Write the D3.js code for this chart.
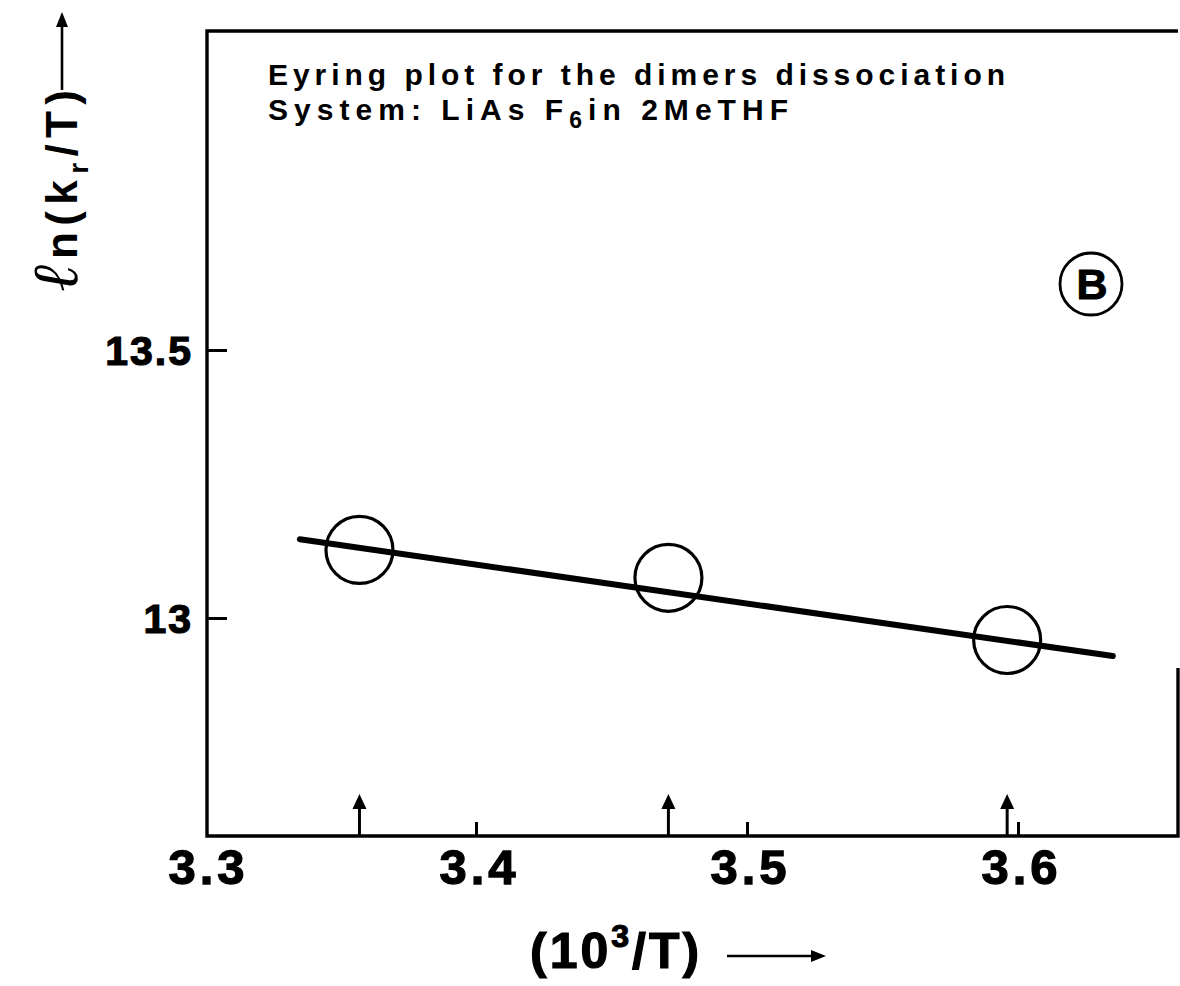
<!DOCTYPE html>
<html>
<head>
<meta charset="utf-8">
<script src="https://cdn.jsdelivr.net/npm/d3@7"></script>
<style>
  html, body { margin: 0; padding: 0; background: #fff; }
  svg { display: block; }
  text { font-family: "Liberation Sans", Arial, Helvetica, sans-serif; fill: #000; }
</style>
</head>
<body>
<svg id="chart" width="1180" height="986"></svg>
<script>
// Eyring plot: ln(k_r/T) against 10^3/T for the dimer dissociation
const invT = [3.357, 3.471, 3.596];          // 10^3 / T  (K^-1)
const lnKT = [13.127, 13.075, 12.959];       // ln(k_r / T)
const fitX = [3.335, 3.635];                 // least-squares line, endpoints in x
const fitY = [13.147, 12.929];               // least-squares line, endpoints in y
const xTicks = [3.3, 3.4, 3.5, 3.6];
const xTickLabels = ["3.3", "3.4", "3.5", "3.6"];
const yTicks = [13, 13.5];
const yTickLabels = ["13", "13.5"];

const svg = d3.select("#chart");
const frame = { left: 207, top: 31, right: 1178, bottom: 836 };

const x = d3.scaleLinear().domain([3.3, 3.6]).range([205, 1018]);
const y = d3.scaleLinear().domain([13, 13.5]).range([618, 350]);

// plot frame (right edge only shows near the bottom)
svg.append("path")
  .attr("d", `M${frame.right},${frame.top} L${frame.left},${frame.top} L${frame.left},${frame.bottom} L${frame.right},${frame.bottom} L${frame.right},668`)
  .attr("fill", "none").attr("stroke", "#000").attr("stroke-width", 3.4)
  .attr("stroke-linejoin", "miter");

// y axis with inward ticks
const yAxis = d3.axisLeft(y)
  .tickValues(yTicks)
  .tickSize(-20)
  .tickFormat((d, i) => yTickLabels[i]);
const gy = svg.append("g").attr("transform", `translate(${frame.left},0)`).call(yAxis);
gy.select(".domain").remove();
gy.selectAll(".tick line").attr("stroke", "#000").attr("stroke-width", 3);
gy.selectAll(".tick text")
  .attr("x", -14).attr("dy", "0.36em")
  .style("font-size", "41px").style("font-weight", "bold")
  .style("letter-spacing", "2px")
  .attr("stroke", "#000").attr("stroke-width", 1.2);

// x axis with short inward ticks
const xAxis = d3.axisBottom(x)
  .tickValues(xTicks)
  .tickSize(-14)
  .tickFormat((d, i) => xTickLabels[i]);
const gx = svg.append("g").attr("transform", `translate(0,${frame.bottom})`).call(xAxis);
gx.select(".domain").remove();
gx.selectAll(".tick line").attr("stroke", "#000").attr("stroke-width", 3)
  .attr("y2", (d) => d === 3.3 ? 0 : -14);
gx.selectAll(".tick text")
  .attr("x", 3).attr("y", 48).attr("dy", 0)
  .style("font-size", "49px").style("font-weight", "bold")
  .style("letter-spacing", "4px")
  .attr("stroke", "#000").attr("stroke-width", 1.3);

// arrows marking the measurement temperatures
const arrowLen = 42;
const arrows = svg.append("g");
invT.forEach((v) => {
  const ax = x(v);
  arrows.append("line")
    .attr("x1", ax).attr("x2", ax)
    .attr("y1", frame.bottom).attr("y2", frame.bottom - arrowLen + 10)
    .attr("stroke", "#000").attr("stroke-width", 3);
  arrows.append("path")
    .attr("d", `M${ax},${frame.bottom - arrowLen} L${ax - 7},${frame.bottom - arrowLen + 15} L${ax + 7},${frame.bottom - arrowLen + 15} Z`)
    .attr("fill", "#000");
});

// fitted line
svg.append("line")
  .attr("x1", x(fitX[0])).attr("y1", y(fitY[0]))
  .attr("x2", x(fitX[1])).attr("y2", y(fitY[1]))
  .attr("stroke", "#000").attr("stroke-width", 6).attr("stroke-linecap", "round");

// data points (open circles)
svg.append("g").selectAll("circle")
  .data(invT.map((v, i) => ({ x: v, y: lnKT[i] })))
  .join("circle")
  .attr("cx", (d) => x(d.x)).attr("cy", (d) => y(d.y))
  .attr("r", 33.5)
  .attr("fill", "none").attr("stroke", "#000").attr("stroke-width", 3.2);

// caption inside the frame
svg.append("text")
  .attr("x", 268).attr("y", 85)
  .attr("textLength", 737).attr("lengthAdjust", "spacing")
  .style("font-size", "30px").style("font-weight", "bold")
  .text("Eyring plot for the dimers dissociation");

const t2 = svg.append("text")
  .attr("x", 268).attr("y", 120)
  .attr("textLength", 520).attr("lengthAdjust", "spacing")
  .style("font-size", "30px").style("font-weight", "bold");
t2.append("tspan").text("System: LiAs F");
t2.append("tspan").attr("dy", 8).style("font-size", "23px").text("6");
t2.append("tspan").attr("dy", -8).text("in 2MeTHF");

// panel letter
const bx = 1091, by = 284;
svg.append("circle").attr("cx", bx).attr("cy", by).attr("r", 31)
  .attr("fill", "none").attr("stroke", "#000").attr("stroke-width", 2.8);
svg.append("text").attr("x", bx + 1).attr("y", by + 15)
  .attr("text-anchor", "middle")
  .style("font-size", "43px").style("font-weight", "bold")
  .attr("stroke", "#000").attr("stroke-width", 1)
  .text("B");

// x-axis title with arrow
const xt = svg.append("text")
  .attr("x", 530).attr("y", 968)
  .style("font-size", "50px").style("font-weight", "bold")
  .style("letter-spacing", "3px")
  .attr("stroke", "#000").attr("stroke-width", 1.2);
xt.append("tspan").text("(10");
xt.append("tspan").attr("dy", -21).style("font-size", "32px").text("3");
xt.append("tspan").attr("dy", 21).text("/T)");
svg.append("line").attr("x1", 727).attr("x2", 814).attr("y1", 956).attr("y2", 956)
  .attr("stroke", "#000").attr("stroke-width", 2.6);
svg.append("path").attr("d", "M826,956 L811,950 L811,962 Z").attr("fill", "#000");

// y-axis title (rotated) with arrow
const yt = svg.append("text")
  .attr("transform", "translate(77,292) rotate(-90)")
  .attr("textLength", 202).attr("lengthAdjust", "spacing")
  .style("font-size", "44px").style("font-weight", "bold");
yt.append("tspan").style("font-style", "italic").style("font-weight", "normal")
  .style("font-family", "'DejaVu Serif', serif")
  .style("font-size", "64px").text("ℓ");
yt.append("tspan").text("n(k");
yt.append("tspan").attr("dy", 11).style("font-size", "28px").text("r");
yt.append("tspan").attr("dy", -11).text("/T)");
svg.append("line").attr("x1", 62).attr("x2", 62).attr("y1", 90).attr("y2", 24)
  .attr("stroke", "#000").attr("stroke-width", 2.6);
svg.append("path").attr("d", "M62,12 L56,27 L68,27 Z").attr("fill", "#000");
</script>
</body>
</html>
